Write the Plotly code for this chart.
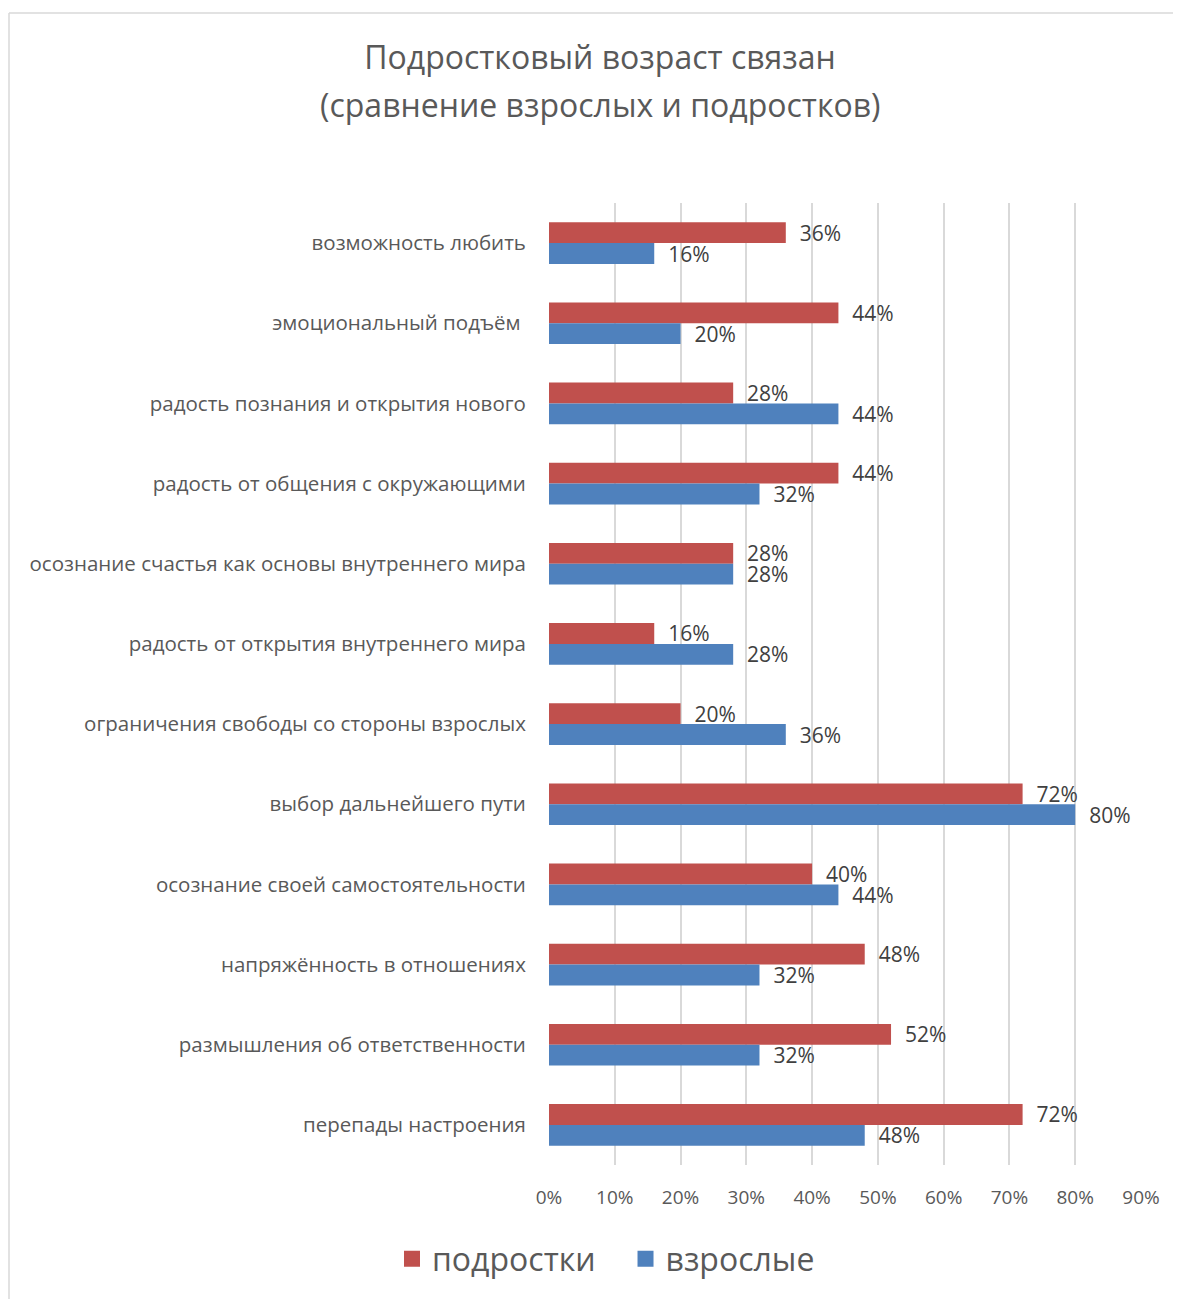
import plotly.graph_objects as go

categories = [
    "возможность любить",
    "эмоциональный подъём ",
    "радость познания и открытия нового",
    "радость от общения с окружающими",
    "осознание счастья как основы внутреннего мира",
    "радость от открытия внутреннего мира",
    "ограничения свободы со стороны взрослых",
    "выбор дальнейшего пути",
    "осознание своей самостоятельности",
    "напряжённость в отношениях",
    "размышления об ответственности",
    "перепады настроения",
]
teens = [0.36, 0.44, 0.28, 0.44, 0.28, 0.16, 0.20, 0.72, 0.40, 0.48, 0.52, 0.72]
adults = [0.16, 0.20, 0.44, 0.32, 0.28, 0.28, 0.36, 0.80, 0.44, 0.32, 0.32, 0.48]
series_names = ["подростки", "взрослые"]
colors = ["#C0504D", "#4F81BD"]
x_ticks = [0, 0.1, 0.2, 0.3, 0.4, 0.5, 0.6, 0.7, 0.8, 0.9]
title_lines = ["Подростковый возраст связан", "(сравнение взрослых и подростков)"]

FONT = "Open Sans"
O = 8  # page body margin offset
W, H = 1181 - O, 1299 - O
L, T = 549 - O, 203 - O
R = W - (1141 - O)
B = H - (1165 - O)
pw, ph = W - L - R, H - T - B


def px_x(p):
    return (p - O - L) / pw


def px_y(p):
    return (H - B - (p - O)) / ph


fig = go.Figure()
for name, vals, col in zip(series_names, [teens, adults], colors):
    fig.add_trace(go.Bar(
        y=categories, x=vals, orientation="h", name=name,
        marker=dict(color=col, line=dict(width=0)),
        texttemplate="\u00a0\u00a0%{x:.0%}", textposition="outside",
        textfont=dict(family=FONT, size=21, color="#404040"),
        constraintext="none", cliponaxis=False, showlegend=False,
    ))
legend_labels = [series_names[0] + "\u00a0\u00a0\u00a0", series_names[1]]
for name, col in zip(legend_labels, colors):
    fig.add_trace(go.Scatter(
        x=[None], y=[None], mode="markers", name=name,
        marker=dict(symbol="square", size=16, color=col),
    ))

border = dict(type="line", xref="paper", yref="paper",
              line=dict(color="#D9D9D9", width=1.5))
fig.add_shape(**border, x0=px_x(9), x1=px_x(9), y0=px_y(13), y1=px_y(1320))
fig.add_shape(**border, x0=px_x(9), x1=px_x(1200), y0=px_y(13), y1=px_y(13))

fig.add_annotation(text=title_lines[1], xref="paper", yref="paper",
                   x=px_x(600), y=px_y(104), xanchor="center", yanchor="middle",
                   showarrow=False,
                   font=dict(family=FONT, size=32, color="#595959"))

fig.update_layout(
    width=W, height=H,
    margin=dict(l=L, r=R, t=T, b=B),
    paper_bgcolor="white", plot_bgcolor="white",
    barmode="group", bargap=0.48, bargroupgap=0,
    title=dict(text=title_lines[0], x=(600 - O) / W, xanchor="center",
               y=1 - (58 - O) / H, yanchor="middle",
               font=dict(family=FONT, size=32, color="#595959")),
    xaxis=dict(range=[0, 0.9], tickvals=x_ticks, tickformat=".0%",
               showgrid=True, gridcolor="#D9D9D9", gridwidth=1.6,
               zeroline=False, showline=False,
               ticks="outside", ticklen=15, tickcolor="rgba(0,0,0,0)",
               tickfont=dict(family=FONT, size=19, color="#595959")),
    yaxis=dict(autorange="reversed", showgrid=False, zeroline=False,
               showline=False, ticks="outside", ticklen=18,
               tickcolor="rgba(0,0,0,0)",
               tickfont=dict(family=FONT, size=20.5, color="#595959")),
    legend=dict(orientation="h", xref="container", yref="container",
                x=(606 - O) / W, xanchor="center", y=1 - (1259 - O) / H,
                yanchor="middle",
                font=dict(family=FONT, size=32, color="#595959"),
                itemwidth=30, tracegroupgap=0),
    showlegend=True,
)

fig.write_html("out.html")
